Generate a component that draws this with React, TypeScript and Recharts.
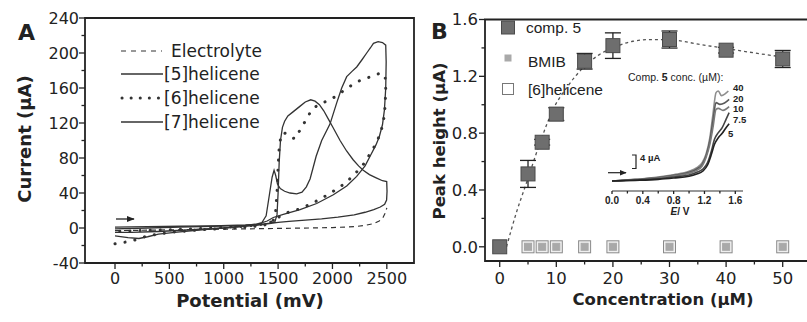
import React from "react";
import {
  LineChart,
  Line,
  XAxis,
  YAxis,
  ReferenceArea,
  ComposedChart,
  Scatter,
  ErrorBar,
} from "recharts";

const SANS = "'DejaVu Sans', sans-serif";
const ARIAL = "'Liberation Sans', Arial, sans-serif";
const INK = "#222";

// ---------- panel A: cyclic voltammograms (potential mV, current uA) ----------
const electrolyteV = [0, 300, 600, 900, 1200, 1500, 1800, 2000, 2200, 2300, 2380, 2430, 2465, 2485, 2500];
const electrolyteI = [-3, -2.5, -2, -1.5, -1, -0.5, 0, 0.5, 1.5, 3, 5, 8, 12, 17, 23];

const hel5V = [0, 300, 600, 900, 1200, 1300, 1350, 1390, 1420, 1445, 1463, 1478, 1495, 1520, 1560, 1610, 1671, 1720, 1760, 1794, 1820, 1850, 1901, 1978, 2039, 2085, 2131, 2180, 2223, 2270, 2315, 2350, 2377, 2420, 2460, 2490, 2494, 2490, 2478, 2460, 2430, 2400, 2346, 2300, 2223, 2131, 2008, 1855, 1702, 1548, 1456, 1400, 1300, 1100, 800, 550, 400, 300, 220, 120, 0];
const hel5I = [-1, 0, 1, 2, 3, 4.5, 6, 14, 38, 58, 66, 60, 50, 45, 42, 40, 39, 41, 47, 56, 68, 82, 100, 119, 143, 160, 173, 179, 184, 192, 200, 206, 211, 213, 212, 209, 190, 160, 135, 118, 104, 95, 82, 71, 59, 48, 38, 28, 21, 15.5, 12, 8, 4, 1, -2, -5, -7, -10, -12, -11, -9];

const hel6V = [0, 150, 300, 500, 800, 1100, 1300, 1400, 1450, 1475, 1490, 1500, 1510, 1525, 1545, 1570, 1610, 1656, 1702, 1754, 1809, 1870, 1950, 2024, 2116, 2223, 2331, 2440, 2484, 2490, 2485, 2472, 2450, 2420, 2380, 2346, 2300, 2208, 2116, 2008, 1901, 1794, 1702, 1595, 1520, 1480, 1400, 1200, 900, 500, 200, 0];
const hel6I = [-18, -15, -9, -5, -2, 0, 2, 4, 7, 15, 40, 70, 92, 104, 109, 108, 104, 102, 112, 123, 135, 141, 145, 150, 158, 167, 172, 177, 174, 160, 140, 125, 112, 102, 92, 85, 75, 62, 51, 42, 34, 27, 22, 18, 14, 9, 5, 2, 0, -2, -3, -4];

const hel7V = [0, 300, 600, 900, 1200, 1350, 1430, 1470, 1490, 1500, 1510, 1522, 1540, 1560, 1590, 1640, 1700, 1750, 1800, 1840, 1880, 1920, 1960, 2000, 2070, 2130, 2190, 2240, 2283, 2340, 2407, 2460, 2499, 2502, 2498, 2480, 2440, 2380, 2300, 2200, 2050, 1900, 1750, 1600, 1500, 1420, 1300, 1000, 700, 400, 150, 0];
const hel7I = [1, 1.5, 2, 2.5, 3.5, 4.5, 5.5, 7, 15, 40, 75, 100, 115, 122, 128, 133, 139, 144, 146.5, 145, 141, 134, 125, 116, 100, 88, 78, 71, 66, 61, 57, 54, 53, 42, 32, 27, 24, 21, 18, 15, 12.5, 10.5, 9, 7.5, 6.5, 5, 3, 0, -2, -4, -5, -5];

const potTicks = [0, 250, 500, 750, 1000, 1250, 1500, 1750, 2000, 2250, 2500];
const curTicks = [-40, -20, 0, 20, 40, 60, 80, 100, 120, 140, 160, 180, 200, 220, 240];

// ---------- panel B: peak height vs concentration ----------
const concs = [0, 5, 7.5, 10, 15, 20, 30, 40, 50];
const comp5Peak = [0, 0.513, 0.736, 0.934, 1.306, 1.416, 1.459, 1.384, 1.322];
const comp5Err = [0, 0.095, 0.02, 0.045, 0.055, 0.09, 0.06, 0.02, 0.06];
const bmibPeak = [0, 0, 0, 0, 0, 0, 0, 0, 0];
const hel6Peak = [0, 0, 0, 0, 0, 0, 0, 0, 0];

const fitConc = [1.2, 2.9, 4.7, 7.1, 9.4, 11.8, 14.7, 17.6, 20.6, 23.5, 27, 30.6, 35.3, 41.2, 47, 50];
const fitPeak = [0, 0.235, 0.447, 0.73, 0.965, 1.118, 1.259, 1.353, 1.41, 1.447, 1.459, 1.455, 1.425, 1.388, 1.353, 1.336];

const concTicks = [0, 5, 10, 15, 20, 25, 30, 35, 40, 45, 50];
const peakTicks = [0, 0.2, 0.4, 0.6, 0.8, 1.0, 1.2, 1.4, 1.6];

// ---------- inset: CVs at several comp. 5 concentrations ----------
const insetLabels = ["40", "20", "10", "7.5", "5"];
const insetE = [
  [0, 0.3, 0.6, 0.8, 1.0, 1.1, 1.17, 1.22, 1.27, 1.31, 1.35, 1.38, 1.42, 1.47, 1.51],
  [0, 0.3, 0.6, 0.8, 1.0, 1.1, 1.17, 1.22, 1.27, 1.31, 1.35, 1.4, 1.46, 1.52],
  [0, 0.3, 0.6, 0.8, 1.0, 1.1, 1.17, 1.22, 1.27, 1.31, 1.35, 1.38, 1.44, 1.52],
  [0, 0.3, 0.6, 0.8, 1.0, 1.1, 1.18, 1.24, 1.29, 1.33, 1.38, 1.43, 1.48, 1.52],
  [0, 0.3, 0.6, 0.8, 1.0, 1.1, 1.18, 1.24, 1.29, 1.33, 1.38, 1.43, 1.48, 1.52],
];
const insetI = [
  [0, 0.5, 1.2, 1.9, 2.9, 4.0, 5.5, 8, 13, 20, 26.5, 27, 25.6, 26.2, 27],
  [0, 0.4, 1.0, 1.7, 2.6, 3.6, 5, 7.5, 12, 18, 23.5, 23, 23.4, 24.5],
  [0, 0.4, 0.9, 1.5, 2.3, 3.2, 4.5, 7, 11, 16, 21.5, 21.8, 21.2, 22.3],
  [0, 0.3, 0.7, 1.2, 1.8, 2.6, 3.6, 5.5, 9, 12.5, 14.5, 16, 18.5, 20.5],
  [0, 0.2, 0.5, 0.9, 1.4, 2.1, 3, 4.8, 8, 11, 13, 14.3, 16, 17.2],
];
const insetColors = ["#8e8e8e", "#5a5a5a", "#7a7a7a", "#444", "#222"];
const eTicks = [0, 0.2, 0.4, 0.6, 0.8, 1.0, 1.2, 1.4, 1.6];

const zipA = (v: number[], i: number[]) => v.map((x, k) => ({ v: x, i: i[k] }));
const zipB = (c: number[], p: number[], e?: number[]) =>
  c.map((x, k) => ({ c: x, p: p[k], err: e ? e[k] : 0 }));

const isMult = (v: number, step: number) => Math.abs(v / step - Math.round(v / step)) < 1e-6;

type TickStyle = {
  size: number;
  family: string;
  weight?: number;
  offset: number;
  len?: number;
  minorLen?: number;
};

const makeTick =
  (side: "bottom" | "left", major: (v: number) => boolean, fmt: (v: number) => string, st: TickStyle) =>
  (props: any) => {
    const { x, y, payload } = props;
    const v = payload.value;
    const big = major(v);
    const len = big ? st.len ?? 6 : st.minorLen ?? 3.5;
    if (side === "bottom") {
      return (
        <g>
          <line x1={x} x2={x} y1={y} y2={y + len} stroke={INK} strokeWidth={1.3} />
          {big && (
            <text x={x} y={y + st.offset} textAnchor="middle" fontSize={st.size} fontFamily={st.family} fontWeight={st.weight ?? 400} fill={INK}>
              {fmt(v)}
            </text>
          )}
        </g>
      );
    }
    return (
      <g>
        <line x1={x - len} x2={x} y1={y} y2={y} stroke={INK} strokeWidth={1.3} />
        {big && (
          <text x={x - st.offset} y={y} dy="0.36em" textAnchor="end" fontSize={st.size} fontFamily={st.family} fontWeight={st.weight ?? 400} fill={INK}>
            {fmt(v)}
          </text>
        )}
      </g>
    );
  };

const square = (size: number, fill: string, stroke: string) => (p: any) =>
  (
    <rect x={p.cx - size / 2} y={p.cy - size / 2} width={size} height={size} fill={fill} stroke={stroke} strokeWidth={1} />
  );

const PanelA = () => (
  <LineChart width={420} height={322} margin={{ top: 18, right: 6, bottom: 29, left: 25 }}>
    <XAxis
      dataKey="v"
      type="number"
      domain={[-276, 2750]}
      allowDataOverflow
      ticks={potTicks}
      interval={0}
      height={30}
      axisLine={false}
      tickLine={false}
      tickSize={0}
      tickMargin={0}
      tick={makeTick("bottom", (v) => isMult(v, 500), (v) => String(v), { size: 16, family: SANS, offset: 21 })}
    />
    <YAxis
      dataKey="i"
      type="number"
      domain={[-40, 240]}
      allowDataOverflow
      ticks={curTicks}
      interval={0}
      width={60}
      axisLine={false}
      tickLine={false}
      tickSize={0}
      tickMargin={0}
      tick={makeTick("left", (v) => isMult(v, 40), (v) => String(v), { size: 16, family: SANS, offset: 6 })}
    />
    <ReferenceArea x1={-276} x2={2750} y1={-40} y2={240} fill="none" stroke={INK} strokeWidth={1.8} ifOverflow="visible" />
    <Line data={zipA(electrolyteV, electrolyteI)} dataKey="i" type="linear" stroke="#333" strokeWidth={1.2} strokeDasharray="5 4" dot={false} isAnimationActive={false} />
    <Line data={zipA(hel5V, hel5I)} dataKey="i" type="linear" stroke="#333" strokeWidth={1.3} dot={false} isAnimationActive={false} />
    <Line data={zipA(hel6V, hel6I)} dataKey="i" type="linear" stroke="#333" strokeWidth={3} strokeDasharray="0.1 10" strokeLinecap="round" dot={false} isAnimationActive={false} />
    <Line data={zipA(hel7V, hel7I)} dataKey="i" type="linear" stroke="#333" strokeWidth={1.3} dot={false} isAnimationActive={false} />
  </LineChart>
);

const PanelB = () => (
  <ComposedChart width={396} height={322} margin={{ top: 19.5, right: 5, bottom: 31, left: 5 }}>
    <XAxis
      dataKey="c"
      type="number"
      domain={[-2.6, 55]}
      allowDataOverflow
      ticks={concTicks}
      interval={0}
      height={30}
      axisLine={false}
      tickLine={false}
      tickSize={0}
      tickMargin={0}
      tick={makeTick("bottom", (v) => isMult(v, 10), (v) => String(v), { size: 16.5, family: SANS, offset: 23 })}
    />
    <YAxis
      dataKey="p"
      type="number"
      domain={[-0.1, 1.6]}
      allowDataOverflow
      ticks={peakTicks}
      interval={0}
      width={60}
      axisLine={false}
      tickLine={false}
      tickSize={0}
      tickMargin={0}
      tick={makeTick("left", (v) => isMult(v, 0.4), (v) => v.toFixed(1), { size: 16.5, family: SANS, offset: 7 })}
    />
    <ReferenceArea x1={-2.6} x2={55} y1={-0.1} y2={1.6} fill="none" stroke={INK} strokeWidth={1.8} ifOverflow="visible" />
    <Line data={zipB(fitConc, fitPeak)} dataKey="p" type="monotone" stroke="#555" strokeWidth={1.3} strokeDasharray="3 3" dot={false} isAnimationActive={false} />
    <Scatter data={zipB(concs, hel6Peak)} shape={square(12, "#f0f0f0", "#8a8a8a")} isAnimationActive={false} />
    <Scatter data={zipB(concs, bmibPeak)} shape={square(7, "#a9a9a9", "#a9a9a9")} isAnimationActive={false} />
    <Scatter data={zipB(concs, comp5Peak, comp5Err)} shape={square(14, "#6e6e6e", "#4a4a4a")} isAnimationActive={false}>
      <ErrorBar dataKey="err" direction="y" width={8} stroke={INK} strokeWidth={1.3} />
    </Scatter>
  </ComposedChart>
);

const Inset = () => (
  <LineChart width={190} height={170} margin={{ top: 21, right: 47, bottom: 19, left: 12 }}>
    <XAxis
      dataKey="e"
      type="number"
      domain={[0, 1.7]}
      allowDataOverflow
      ticks={eTicks}
      interval={0}
      height={20}
      axisLine={{ stroke: "#333", strokeWidth: 1.2 }}
      tickLine={false}
      tickSize={0}
      tickMargin={0}
      tick={makeTick("bottom", (v) => isMult(v, 0.4), (v) => v.toFixed(1), { size: 10, family: ARIAL, weight: 700, offset: 13, len: 3, minorLen: 2.5 })}
    />
    <YAxis hide dataKey="y" type="number" domain={[-3, 30]} allowDataOverflow />
    {insetE.map((es, k) => (
      <Line
        key={insetLabels[k]}
        data={es.map((e, j) => ({ e, y: insetI[k][j] }))}
        dataKey="y"
        type="monotone"
        stroke={insetColors[k]}
        strokeWidth={1.6}
        dot={false}
        isAnimationActive={false}
      />
    ))}
  </LineChart>
);

const Overlay = () => (
  <svg width={807} height={322} style={{ position: "absolute", left: 0, top: 0, pointerEvents: "none" }}>
    <defs>
      <marker id="ah" viewBox="0 0 10 10" refX="9" refY="5" markerWidth="6" markerHeight="6" orient="auto">
        <path d="M0,1 L10,5 L0,9 z" fill="#222" />
      </marker>
    </defs>
    {/* panel letters */}
    <text x={18} y={40} fontFamily={SANS} fontWeight={700} fontSize={22} fill={INK}>A</text>
    <text x={431} y={39} fontFamily={SANS} fontWeight={700} fontSize={22} fill={INK}>B</text>

    {/* axis titles */}
    <text x={250} y={307} textAnchor="middle" fontFamily={SANS} fontWeight={700} fontSize={18} fill={INK}>Potential (mV)</text>
    <text transform="translate(25,139) rotate(-90)" textAnchor="middle" dy="0.36em" fontFamily={SANS} fontWeight={700} fontSize={18} fill={INK}>Current (µA)</text>
    <text x={663} y={305} textAnchor="middle" fontFamily={SANS} fontWeight={700} fontSize={16.5} fill={INK}>Concentration (µM)</text>
    <text transform="translate(439,141) rotate(-90)" textAnchor="middle" dy="0.36em" fontFamily={SANS} fontWeight={700} fontSize={16.5} fill={INK}>Peak height (µA)</text>

    {/* legend A */}
    <line x1={121} x2={162} y1={51} y2={51} stroke="#333" strokeWidth={1.2} strokeDasharray="5 5" />
    <text x={171} y={57} fontFamily={SANS} fontSize={17} fill={INK}>Electrolyte</text>
    <line x1={121} x2={163} y1={74} y2={74} stroke="#333" strokeWidth={1.3} />
    <text x={164} y={80} fontFamily={SANS} fontSize={17} fill={INK}>[5]helicene</text>
    <line x1={122} x2={160} y1={98} y2={98} stroke="#333" strokeWidth={3} strokeDasharray="0.1 9" strokeLinecap="round" />
    <text x={164} y={104} fontFamily={SANS} fontSize={17} fill={INK}>[6]helicene</text>
    <line x1={121} x2={163} y1={122} y2={122} stroke="#333" strokeWidth={1.3} />
    <text x={164} y={128} fontFamily={SANS} fontSize={17} fill={INK}>[7]helicene</text>

    {/* scan direction arrow A */}
    <line x1={116} x2={134} y1={219} y2={219} stroke="#222" strokeWidth={1.3} markerEnd="url(#ah)" />

    {/* legend B */}
    <rect x={501.5} y={21} width={13} height={13} fill="#6e6e6e" stroke="#4a4a4a" />
    <text x={526} y={33} fontFamily={ARIAL} fontSize={15.5} fill={INK}>comp. 5</text>
    <rect x={504.5} y={54.5} width={7} height={7} fill="#a9a9a9" />
    <text x={528} y={67} fontFamily={ARIAL} fontSize={15.5} fill={INK}>BMIB</text>
    <rect x={502.5} y={83.5} width={11} height={11} fill="none" stroke="#777" />
    <text x={528} y={95} fontFamily={ARIAL} fontSize={15.5} fill={INK}>[6]helicene</text>

    {/* inset annotations */}
    <text x={628} y={81} fontFamily={ARIAL} fontSize={10.5} fill={INK}>
      Comp. <tspan fontWeight={700}>5</tspan> conc. (µM):
    </text>
    {[88, 98.5, 109, 120, 134].map((y, k) => (
      <text key={insetLabels[k]} x={k === 4 ? 728 : 733} y={y + 3.2} fontFamily={ARIAL} fontWeight={700} fontSize={9.5} fill={INK}>
        {insetLabels[k]}
      </text>
    ))}
    <path d="M632,155 L636,155 L636,168.5 L632,168.5" fill="none" stroke="#222" strokeWidth={1.2} />
    <text x={640} y={160.5} fontFamily={ARIAL} fontWeight={700} fontSize={9.5} fill={INK}>4 µA</text>
    <line x1={608} x2={626} y1={172.7} y2={172.7} stroke="#222" strokeWidth={1.2} markerEnd="url(#ah)" />
    <text x={680} y={215} textAnchor="middle" fontFamily={ARIAL} fontWeight={700} fontSize={10} fill={INK}>
      <tspan fontStyle="italic">E</tspan>/ V
    </text>
  </svg>
);

export default function App() {
  return (
    <div style={{ position: "absolute", left: 0, top: 0, width: 807, height: 322, overflow: "hidden", background: "#fff" }}>
      <div style={{ position: "absolute", left: 0, top: 0 }}>
        <PanelA />
      </div>
      <div style={{ position: "absolute", left: 420, top: 0 }}>
        <PanelB />
      </div>
      <div style={{ position: "absolute", left: 600, top: 60 }}>
        <Inset />
      </div>
      <Overlay />
    </div>
  );
}
